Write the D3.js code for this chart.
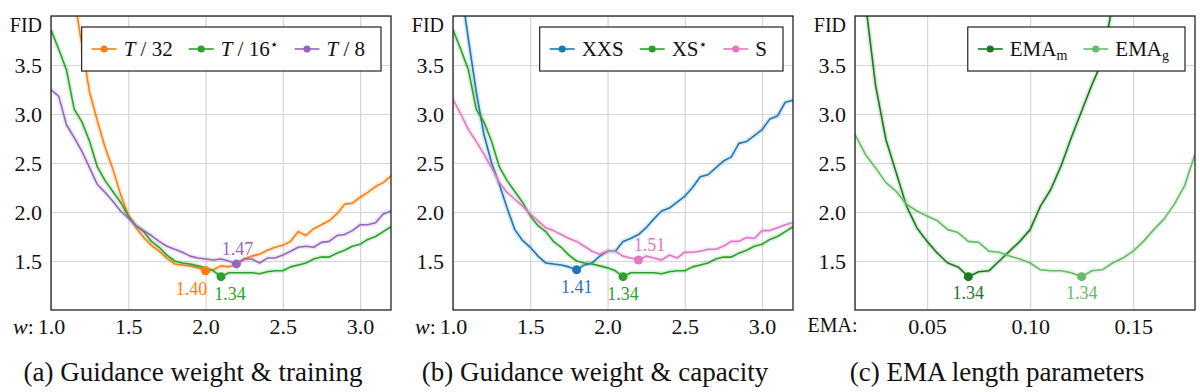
<!DOCTYPE html>
<html>
<head>
<meta charset="utf-8">
<script src="https://cdn.jsdelivr.net/npm/d3@7"></script>
<style>
  body { margin: 0; background: #fff; }
  svg { display: block; font-family: "Liberation Serif", "Times New Roman", serif; }
</style>
</head>
<body>
<svg id="chart" width="1200" height="392"></svg>
<script>
// guidance weight w, sampled every 0.05
const wSteps = [1.00, 1.05, 1.10, 1.15, 1.20, 1.25, 1.30, 1.35, 1.40, 1.45, 1.50, 1.55, 1.60, 1.65, 1.70,
  1.75, 1.80, 1.85, 1.90, 1.95, 2.00, 2.05, 2.10, 2.15, 2.20, 2.25, 2.30, 2.35, 2.40, 2.45, 2.50, 2.55,
  2.60, 2.65, 2.70, 2.75, 2.80, 2.85, 2.90, 2.95, 3.00, 3.05, 3.10, 3.15, 3.20];

// (a) training length
const fidT32 = [5.9, 5.2, 4.6, 4.2, 3.70, 3.22, 2.93, 2.66, 2.44, 2.18, 1.97, 1.84, 1.74, 1.66, 1.60,
  1.53, 1.47, 1.46, 1.45, 1.43, 1.40, 1.41, 1.45, 1.44, 1.47, 1.52, 1.55, 1.57, 1.61, 1.64, 1.66, 1.70,
  1.80, 1.76, 1.83, 1.87, 1.91, 1.98, 2.08, 2.09, 2.15, 2.20, 2.26, 2.30, 2.37];
const fidT16 = [3.86, 3.66, 3.45, 3.05, 2.92, 2.72, 2.46, 2.32, 2.21, 2.10, 1.96, 1.86, 1.80, 1.70, 1.64,
  1.56, 1.50, 1.48, 1.47, 1.45, 1.43, 1.40, 1.34, 1.38, 1.38, 1.38, 1.38, 1.37, 1.39, 1.40, 1.40, 1.44,
  1.46, 1.48, 1.52, 1.54, 1.54, 1.58, 1.61, 1.65, 1.67, 1.72, 1.75, 1.80, 1.85];
const fidT8 = [3.25, 3.18, 2.89, 2.76, 2.62, 2.45, 2.28, 2.20, 2.11, 2.01, 1.94, 1.86, 1.81, 1.76, 1.70,
  1.65, 1.62, 1.59, 1.55, 1.53, 1.52, 1.51, 1.52, 1.50, 1.47, 1.52, 1.52, 1.48, 1.53, 1.53, 1.56, 1.60,
  1.64, 1.65, 1.64, 1.69, 1.70, 1.76, 1.77, 1.81, 1.87, 1.87, 1.89, 1.98, 2.01];

// (b) model capacity (XS is the same run as T/16)
const fidXXS = [4.85, 4.30, 3.76, 3.23, 2.79, 2.50, 2.28, 2.04, 1.82, 1.71, 1.64, 1.55, 1.48, 1.47, 1.46,
  1.44, 1.41, 1.46, 1.48, 1.55, 1.60, 1.60, 1.70, 1.73, 1.77, 1.84, 1.93, 2.01, 2.04, 2.10, 2.16, 2.25,
  2.36, 2.38, 2.45, 2.52, 2.56, 2.70, 2.72, 2.78, 2.84, 2.95, 2.98, 3.12, 3.14];
const fidXS = fidT16;
const fidS = [3.15, 3.00, 2.84, 2.72, 2.59, 2.45, 2.30, 2.20, 2.13, 2.06, 1.98, 1.91, 1.84, 1.81, 1.77,
  1.73, 1.70, 1.65, 1.60, 1.57, 1.60, 1.60, 1.55, 1.53, 1.51, 1.55, 1.53, 1.51, 1.56, 1.53, 1.59, 1.59,
  1.60, 1.62, 1.62, 1.65, 1.70, 1.70, 1.74, 1.73, 1.81, 1.81, 1.84, 1.87, 1.89];

// (c) EMA length, sampled every 0.005
const emaSteps = [0.015, 0.020, 0.025, 0.030, 0.035, 0.040, 0.045, 0.050, 0.055, 0.060, 0.065, 0.070,
  0.075, 0.080, 0.085, 0.090, 0.095, 0.100, 0.105, 0.110, 0.115, 0.120, 0.125, 0.130, 0.135, 0.140,
  0.145, 0.150, 0.155, 0.160, 0.165, 0.170, 0.175, 0.180];
const fidEmaM = [5.04, 4.15, 3.29, 2.74, 2.40, 2.06, 1.84, 1.70, 1.58, 1.48, 1.44, 1.34, 1.39, 1.40, 1.50,
  1.60, 1.70, 1.82, 2.06, 2.23, 2.47, 2.76, 3.03, 3.30, 3.54, 4.12, 4.70];
const fidEmaG = [2.79, 2.59, 2.45, 2.30, 2.21, 2.08, 2.01, 1.96, 1.91, 1.82, 1.79, 1.70, 1.69, 1.60, 1.59,
  1.55, 1.52, 1.48, 1.41, 1.40, 1.40, 1.38, 1.34, 1.40, 1.41, 1.48, 1.53, 1.60, 1.70, 1.82, 1.93, 2.08,
  2.27, 2.59];

const wTicks = [1.0, 1.5, 2.0, 2.5, 3.0];
const emaTicks = [0.015, 0.05, 0.10, 0.15];
const fidTicks = [1.5, 2.0, 2.5, 3.0, 3.5, 4.0];
const captions = ['(a) Guidance weight & training', '(b) Guidance weight & capacity', '(c) EMA length parameters'];

const C = {
  orange: '#ff7f0e', green: '#2ca02c', purple: '#9467bd', blue: '#1f77b4',
  pink: '#e377c2', dark: '#1b7a1e', light: '#66bb66',
};

const panels = [
  {
    xs: wSteps, domain: [1, 3.2], ticks: wTicks, caption: captions[0],
    series: [
      { label: [{ t: 'T', it: true }, { t: ' / 32' }], values: fidT32, color: C.orange, dx: -14, dy: 24 },
      { label: [{ t: 'T', it: true }, { t: ' / 16' }, { t: '\u22c6', sup: true }], values: fidT16, color: C.green, dx: 9, dy: 23 },
      { label: [{ t: 'T', it: true }, { t: ' / 8' }], values: fidT8, color: C.purple, dx: 1, dy: -9 },
    ],
  },
  {
    xs: wSteps, domain: [1, 3.2], ticks: wTicks, caption: captions[1],
    series: [
      { label: [{ t: 'XXS' }], values: fidXXS, color: C.blue, dx: 0, dy: 23 },
      { label: [{ t: 'XS' }, { t: '\u22c6', sup: true }], values: fidXS, color: C.green, dx: 0, dy: 23 },
      { label: [{ t: 'S' }], values: fidS, color: C.pink, dx: 11, dy: -9 },
    ],
  },
  {
    xs: emaSteps, domain: [0.015, 0.18], ticks: emaTicks, caption: captions[2],
    series: [
      { label: [{ t: 'EMA' }, { t: 'm', sub: true }], values: fidEmaM, color: C.dark, dx: 0, dy: 22 },
      { label: [{ t: 'EMA' }, { t: 'g', sub: true }], values: fidEmaG, color: C.light, dx: 0, dy: 22 },
    ],
  },
];

const svg = d3.select('#chart');
const pw = 340, ph = 294, plotTop = 16;
const fmt1 = d3.format('.1f'), fmt2 = d3.format('.2f');

panels.forEach((p, pi) => {
  const left = 51 + pi * 402;
  const g = svg.append('g').attr('transform', `translate(${left},${plotTop})`);
  const x = d3.scaleLinear().domain(p.domain).range([0, pw]);
  const y = d3.scaleLinear().domain([1, 4]).range([ph, 0]);

  const clipId = 'clip' + pi;
  g.append('clipPath').attr('id', clipId).append('rect').attr('width', pw).attr('height', ph);

  // y axis + horizontal grid
  const ya = g.append('g').call(d3.axisLeft(y).tickValues(fidTicks).tickSize(-pw).tickPadding(9)
    .tickFormat(d => d === 4 ? 'FID' : fmt1(d)))
    .attr('font-family', null).attr('font-size', 22);
  ya.select('.domain').remove();
  ya.selectAll('.tick line').attr('stroke', '#d6d6d6').attr('stroke-width', 1.2);
  ya.selectAll('.tick text').attr('fill', '#111')
    .filter(d => d === 4).attr('y', 9).attr('font-size', 20);

  // x axis + vertical grid
  const isEma = p.xs === emaSteps;
  const xa = g.append('g').attr('transform', `translate(0,${ph})`)
    .call(d3.axisBottom(x).tickValues(p.ticks).tickSize(-ph).tickPadding(8)
      .tickFormat(d => isEma ? (d === p.domain[0] ? 'EMA:' : fmt2(d)) : fmt1(d)))
    .attr('font-family', null).attr('font-size', 22);
  xa.select('.domain').remove();
  xa.selectAll('.tick line').attr('stroke', '#d6d6d6').attr('stroke-width', 1.2);
  xa.selectAll('.tick text').attr('fill', '#111');
  if (isEma) {
    xa.selectAll('.tick text').filter(d => d === p.domain[0])
      .attr('text-anchor', 'end').attr('x', 2).attr('font-size', 20);
  } else {
    const first = xa.selectAll('.tick text').filter(d => d === p.domain[0]);
    const half = first.node().getComputedTextLength() / 2;
    xa.select('.tick').append('text')
      .attr('x', -half - 4).attr('y', 8).attr('dy', '0.71em')
      .attr('text-anchor', 'end').attr('fill', '#111')
      .html('<tspan font-style="italic">w</tspan>:');
  }

  // curves with a faint band underneath
  const plot = g.append('g').attr('clip-path', `url(#${clipId})`);
  p.series.forEach(s => {
    const line = d3.line().x((d, i) => x(p.xs[i])).y(d => y(d));
    plot.append('path').attr('d', line(s.values)).attr('fill', 'none')
      .attr('stroke', s.color).attr('stroke-opacity', 0.16).attr('stroke-width', 5)
      .attr('stroke-linejoin', 'round');
    plot.append('path').attr('d', line(s.values)).attr('fill', 'none')
      .attr('stroke', s.color).attr('stroke-width', 1.6).attr('stroke-linejoin', 'round');
  });

  // best FID marker and value
  p.series.forEach(s => {
    const i = d3.minIndex(s.values);
    const cx = x(p.xs[i]), cy = y(s.values[i]);
    g.append('circle').attr('cx', cx).attr('cy', cy).attr('r', 4.5).attr('fill', s.color);
    g.append('text').attr('x', cx + s.dx).attr('y', cy + s.dy)
      .attr('text-anchor', 'middle').attr('fill', s.color).attr('font-size', 18)
      .text(fmt2(s.values[i]));
  });

  // frame
  g.append('rect').attr('width', pw).attr('height', ph)
    .attr('fill', 'none').attr('stroke', '#222').attr('stroke-width', 1.3);

  // legend, top-right
  const lg = g.append('g');
  const box = lg.append('rect').attr('fill', '#fff').attr('stroke', '#222').attr('stroke-width', 1.2);
  const ly = 33;
  let cur = 10;
  p.series.forEach(s => {
    lg.append('line').attr('x1', cur).attr('x2', cur + 25).attr('y1', ly).attr('y2', ly)
      .attr('stroke', s.color).attr('stroke-width', 1.6);
    lg.append('circle').attr('cx', cur + 12.5).attr('cy', ly).attr('r', 3.6).attr('fill', s.color);
    const t = lg.append('text').attr('x', cur + 32).attr('y', ly).attr('dy', '0.33em')
      .attr('font-size', 21).attr('fill', '#111');
    s.label.forEach(part => {
      const ts = t.append('tspan').text(part.t);
      if (part.it) ts.attr('font-style', 'italic');
      if (part.sup) ts.attr('font-size', 14).attr('dy', '-0.5em').attr('font-family', 'DejaVu Sans');
      if (part.sub) ts.attr('font-size', 14).attr('dy', '0.3em');
    });
    cur += 32 + t.node().getComputedTextLength() + 16;
  });
  box.attr('x', 0).attr('y', 11).attr('width', cur).attr('height', 44);
  lg.attr('transform', `translate(${pw - 10 - cur},0)`);

  // caption
  svg.append('text').attr('x', left + 142).attr('y', 381).attr('text-anchor', 'middle')
    .attr('font-size', 27).attr('fill', '#111').text(p.caption);
});
</script>
</body>
</html>
